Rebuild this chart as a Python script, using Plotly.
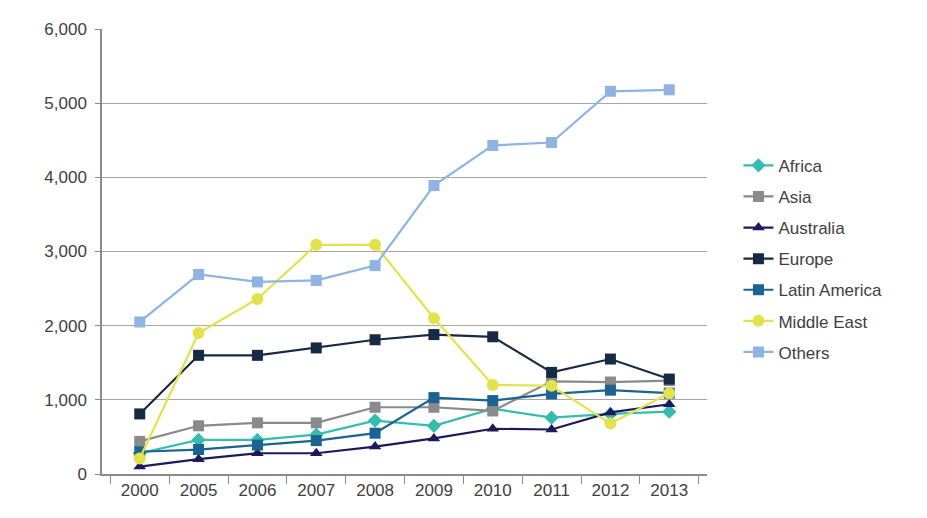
import plotly.graph_objects as go

years = ["2000", "2005", "2006", "2007", "2008", "2009", "2010", "2011", "2012", "2013"]

africa = [280, 460, 460, 530, 720, 650, 880, 760, 810, 840]
asia = [440, 650, 690, 690, 900, 900, 850, 1250, 1240, 1260]
australia = [100, 200, 280, 280, 370, 480, 610, 600, 830, 940]
europe = [810, 1600, 1600, 1700, 1810, 1880, 1850, 1370, 1550, 1280]
latin_america = [300, 330, 390, 450, 550, 1030, 990, 1080, 1130, 1090]
middle_east = [210, 1900, 2360, 3090, 3090, 2100, 1200, 1190, 680, 1090]
others = [2050, 2690, 2590, 2610, 2810, 3890, 4430, 4470, 5160, 5180]

y_ticks = [0, 1000, 2000, 3000, 4000, 5000, 6000]

series = [
    ("Africa", africa, "#35bcae", "diamond", 11),
    ("Asia", asia, "#8a8a8a", "square", 11),
    ("Australia", australia, "#1c1a5c", "triangle-up", 11),
    ("Europe", europe, "#172a44", "square", 11),
    ("Latin America", latin_america, "#1b6392", "square", 11),
    ("Middle East", middle_east, "#e2e24c", "circle", 12),
    ("Others", others, "#8fb3e2", "square", 11),
]

fig = go.Figure()
for name, vals, color, sym, size in series:
    fig.add_trace(go.Scatter(
        x=years, y=vals, name=name, mode="lines+markers",
        line=dict(color=color, width=2.2),
        marker=dict(symbol=sym, size=size, color=color),
        legendgroup=name,
    ))

fig.update_layout(
    width=927, height=518,
    margin=dict(l=94, r=228, t=16, b=52),
    paper_bgcolor="white", plot_bgcolor="white",
    font=dict(family="Liberation Sans, Arial, sans-serif", size=17, color="#404040"),
    showlegend=True,
    legend=dict(x=1.052, y=0.733, xanchor="left", yanchor="top",
                tracegroupgap=6, font=dict(size=17, color="#404040"),
                bgcolor="rgba(0,0,0,0)"),
    xaxis=dict(type="category", categoryorder="array", categoryarray=years,
               showgrid=False, showline=True, linecolor="#8a8a8a", linewidth=1.5,
               ticks="outside", tickson="boundaries", ticklen=8, tickcolor="#8a8a8a",
               tickfont=dict(size=17, color="#404040")),
    yaxis=dict(range=[0, 6000], tickvals=y_ticks, tickformat=",",
               showgrid=True, gridcolor="#a6a6a6", gridwidth=1.2,
               showline=True, linecolor="#8a8a8a", linewidth=1.5,
               ticks="outside", ticklen=5, tickcolor="#8a8a8a", ticklabelstandoff=5,
               zeroline=False, tickfont=dict(size=17, color="#404040")),
)

fig.write_html("out.html")
